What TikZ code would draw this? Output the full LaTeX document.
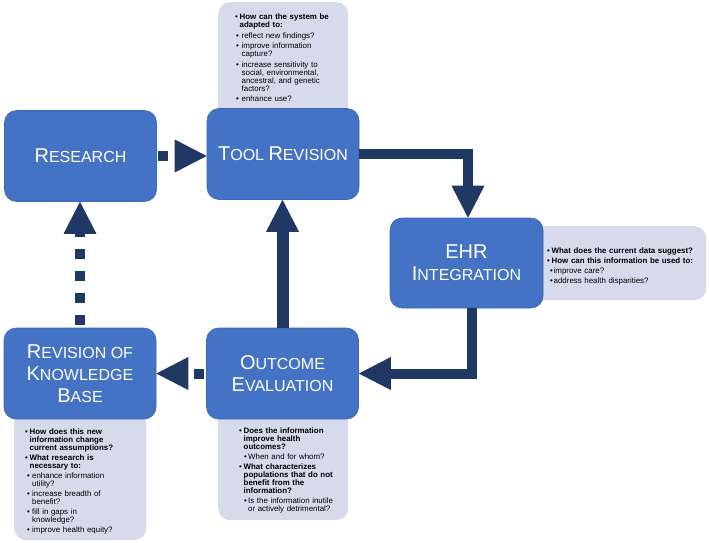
\documentclass[tikz,border=0pt]{standalone}
\usepackage{fontspec}
\setmainfont{Liberation Sans}
\usetikzlibrary{arrows.meta}
\definecolor{boxblue}{HTML}{4472C4}
\definecolor{boxedge}{HTML}{3B67B5}
\definecolor{navy}{HTML}{203864}
\definecolor{calloutfill}{HTML}{D6DAEA}
\newlength\subbul
\newlength\subtx
\newcommand\Lg[1]{{\fontsize{20}{22}\selectfont #1}}
\newcommand\qi[1]{\par\hangindent=4.5pt\hangafter=1\noindent\makebox[4.5pt][l]{\textbullet}\textbf{#1}}
\newcommand\si[1]{\par\hangindent=\subtx\hangafter=1\noindent\hspace*{\subbul}\makebox[\dimexpr\subtx-\subbul\relax][l]{\textbullet}#1}
\newcommand\ctsetup[2]{\raggedright\setlength\parskip{0pt}\setlength\subbul{#1}\setlength\subtx{#2}}
\newcommand\ps[1][2pt]{\setlength\parskip{#1}}
\begin{document}
\begin{tikzpicture}[x=1pt,y=-1pt,
  box/.style={draw=boxedge, line width=0.6pt, fill=boxblue, rounded corners=12pt,
    minimum width=152pt, minimum height=91pt, text=white,
    font=\fontsize{16}{22}\selectfont, align=center, inner sep=0pt},
  callout/.style={fill=calloutfill, rounded corners=12pt, inner sep=0pt, anchor=north west},
  ctext/.style={anchor=base west, inner sep=0pt, text width=170pt, font=\fontsize{7.9}{8}\selectfont},
  blk/.style={color=navy, line width=10pt, -{Triangle[length=32pt,width=33pt,line width=0pt]}},
]
\fill[white] (0,0) rectangle (709,542);
\useasboundingbox (0,0) rectangle (709,542);

% callouts
\node[callout, minimum width=130pt, minimum height=128pt] (c1) at (218,2) {};
\node[callout, minimum width=186pt, minimum height=74pt] (c2) at (520,226) {};
\node[callout, minimum width=132pt, minimum height=140pt] (c3) at (14,400) {};
\node[callout, minimum width=130pt, minimum height=120pt] (c4) at (218,400) {};

% boxes
\node[box] (research) at (80.5,156) {\Lg{R}ESEARCH};
\node[box] (tool) at (283,154) {\Lg{T}OOL \Lg{R}EVISION};
\node[box, minimum height=90pt, minimum width=153pt] (ehr) at (466.5,263) {\Lg{EHR}\\\Lg{I}NTEGRATION};
\node[box] (outcome) at (282.5,373.5) {\Lg{O}UTCOME\\\Lg{E}VALUATION};
\node[box] (kb) at (80,373.5) {\Lg{R}EVISION OF\\\Lg{K}NOWLEDGE\\\Lg{B}ASE};

% arrows
\draw[blk, dash pattern=on 10pt off 10pt, dash phase=19pt] (research.east) -- (research.east -| tool.west);
\draw[blk] (tool.east) -| ([xshift=1.5pt]ehr.north);
\draw[blk] ([xshift=5pt]ehr.south) |- (outcome.east);
\draw[blk, line width=12pt] (outcome.north) -- (outcome.north |- tool.south);
\draw[blk, dash pattern=on 10pt off 10pt, dash phase=18pt] (outcome.west) -- (outcome.west -| kb.east);
\draw[blk, dash pattern=on 10pt off 12pt, dash phase=19pt] (kb.north) -- (kb.north |- research.south);

% callout texts
\node[ctext] (t1) at (235,11.5) {\ctsetup{1pt}{6.5pt}%
\qi{How can the system be\newline adapted to:}\ps[2.5pt]
\si{reflect new findings?}
\si{improve information\newline capture?}
\si{increase sensitivity to\newline social, environmental,\newline ancestral, and genetic\newline factors?}
\si{enhance use?}\par};

\node[ctext] (t2) at (547,245) {\ctsetup{3pt}{6.5pt}%
\qi{What does the current data suggest?}\ps
\qi{How can this information be used to:}
\si{improve care?}
\si{address health disparities?}\par};

\node[ctext] (t3) at (25,426.5) {\ctsetup{2pt}{7pt}%
\qi{How does this new\newline information change\newline current assumptions?}\ps
\qi{What research is\newline necessary to:}
\si{enhance information\newline utility?}
\si{increase breadth of\newline benefit?}
\si{fill in gaps in\newline knowledge?}
\si{improve health equity?}\par};

\node[ctext] (t4) at (239,425.5) {\ctsetup{5pt}{9pt}%
\qi{Does the information\newline improve health\newline outcomes?}\ps
\si{When and for whom?}
\qi{What characterizes\newline populations that do not\newline benefit from the\newline information?}
\si{Is the information inutile\newline or actively detrimental?}\par};
\end{tikzpicture}
\end{document}
